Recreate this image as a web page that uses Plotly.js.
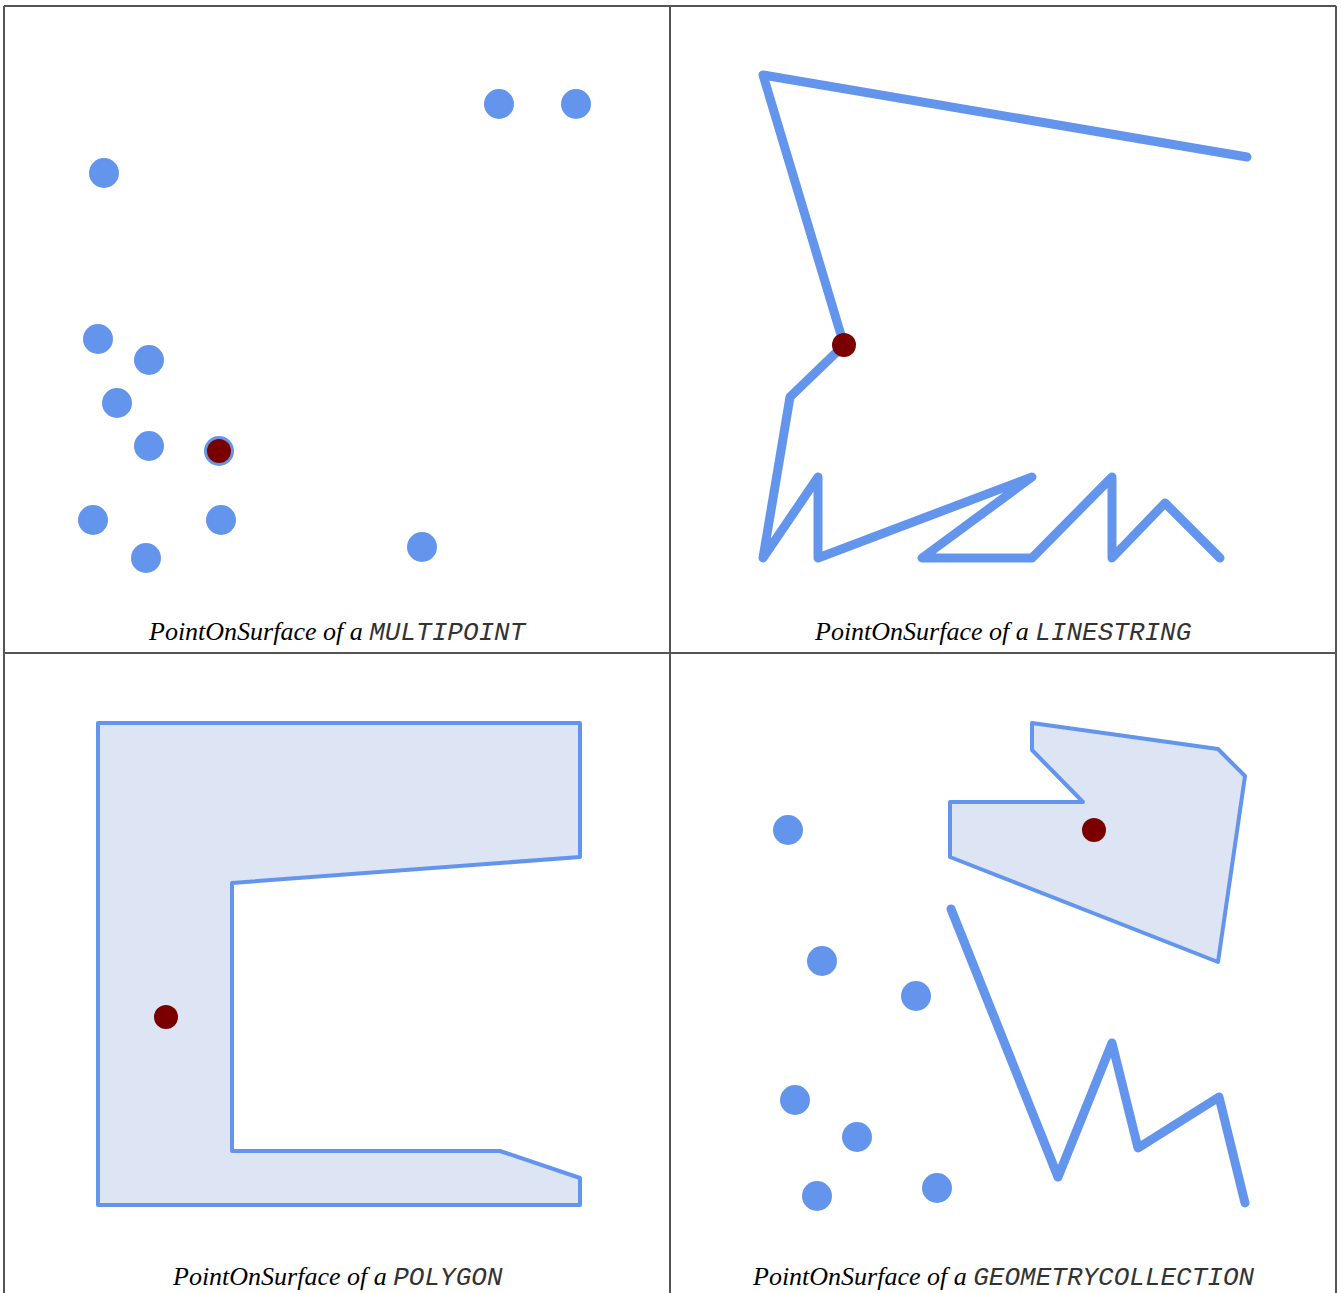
<!DOCTYPE html>
<html>
<head>
<meta charset="utf-8">
<script src="https://cdn.plot.ly/plotly-3.0.1.min.js"></script>
<style>
  html, body { margin: 0; padding: 0; background: #ffffff; }
  #chart { width: 1341px; height: 1293px; }
  .js-line { stroke-linejoin: round; stroke-linecap: round; }
</style>
</head>
<body>
<div id="chart"></div>
<script>
// ---------- DATA (panel-local coordinates, y up) ----------
// Panel 1: MULTIPOINT
const mpX = [100, 495, 572, 94, 145, 113, 145, 215, 89, 217, 142, 418];
const mpY = [437, 506, 506, 271, 250, 207, 164, 159, 90, 90, 52, 63];
const mpPosX = [215];
const mpPosY = [159];

// Panel 2: LINESTRING
const lsX = [577, 93, 174, 120, 93, 148, 148, 362, 252, 362, 442, 442, 495, 550];
const lsY = [453, 535, 265, 213, 52, 133, 52, 133, 52, 52, 133, 52, 107, 52];
const lsPosX = [174];
const lsPosY = [265];

// Panel 3: POLYGON
const pgX = [94, 576, 576, 228, 228, 496, 576, 576, 94, 94];
const pgY = [527, 527, 393, 367, 99, 99, 72, 45, 45, 527];
const pgPosX = [162];
const pgPosY = [233];

// Panel 4: GEOMETRYCOLLECTION
const gcPtX = [118, 152, 246, 125, 187, 147, 267];
const gcPtY = [420, 289, 254, 150, 113, 54, 62];
const gcPolyX = [362, 548, 575, 548, 280, 280, 413, 362, 362];
const gcPolyY = [527, 501, 474, 288, 393, 448, 448, 500, 527];
const gcLineX = [281, 388, 442, 468, 549, 575];
const gcLineY = [341, 73, 207, 102, 153, 47];
const gcPosX = [424];
const gcPosY = [420];

const captions = ["MULTIPOINT", "LINESTRING", "POLYGON", "GEOMETRYCOLLECTION"];
const captionPrefix = "PointOnSurface of a ";

// ---------- STYLE / LAYOUT ----------
const W = 1341, H = 1293;
const BLUE = "#6495ED";
const RED = "#7a0000";
const FILL = "#dde4f3";

// panel pixel boxes: [left, right, top, bottom]
const boxes = [
  [4, 670, 6, 610],
  [670, 1336, 6, 610],
  [4, 670, 653, 1250],
  [670, 1336, 653, 1250]
];

const traces = [];
function ax(i) { return i === 0 ? "" : String(i + 1); }

function pts(x, y, i, color, size) {
  traces.push({type: "scatter", mode: "markers", x: x, y: y,
    xaxis: "x" + ax(i), yaxis: "y" + ax(i),
    marker: {color: color, size: size, line: {width: 0}},
    hoverinfo: "skip", showlegend: false});
}
function line(x, y, i, width, fill) {
  const t = {type: "scatter", mode: "lines", x: x, y: y,
    xaxis: "x" + ax(i), yaxis: "y" + ax(i),
    line: {color: BLUE, width: width},
    hoverinfo: "skip", showlegend: false};
  if (fill) { t.fill = "toself"; t.fillcolor = FILL; }
  traces.push(t);
}

// panel 1
pts(mpX, mpY, 0, BLUE, 30);
pts(mpPosX, mpPosY, 0, RED, 24);
// panel 2
line(lsX, lsY, 1, 9, false);
pts(lsPosX, lsPosY, 1, RED, 24);
// panel 3
line(pgX, pgY, 2, 4, true);
pts(pgPosX, pgPosY, 2, RED, 24);
// panel 4
line(gcPolyX, gcPolyY, 3, 4, true);
line(gcLineX, gcLineY, 3, 9, false);
pts(gcPtX, gcPtY, 3, BLUE, 30);
pts(gcPosX, gcPosY, 3, RED, 24);

const layout = {
  width: W, height: H,
  margin: {l: 0, r: 0, t: 0, b: 0, pad: 0},
  paper_bgcolor: "#ffffff", plot_bgcolor: "rgba(0,0,0,0)",
  showlegend: false, hovermode: false,
  shapes: [], annotations: []
};

boxes.forEach((b, i) => {
  const [l, r, t, bt] = b;
  const axisCommon = {visible: false, showgrid: false, zeroline: false, fixedrange: true};
  layout["xaxis" + ax(i)] = Object.assign({}, axisCommon, {
    domain: [l / W, r / W], range: [0, r - l], anchor: "y" + ax(i)});
  layout["yaxis" + ax(i)] = Object.assign({}, axisCommon, {
    domain: [1 - bt / H, 1 - t / H], range: [0, bt - t], anchor: "x" + ax(i)});
  const cy = i < 2 ? 632 : 1277;
  layout.annotations.push({
    xref: "paper", yref: "paper", x: ((l + r) / 2) / W, y: 1 - cy / H,
    xanchor: "center", yanchor: "middle", showarrow: false,
    text: "<i>" + captionPrefix + "<span style='font-family:Liberation Mono;font-size:26px;color:#333'>" + captions[i] + "</span></i>",
    font: {family: "Liberation Serif", size: 26, color: "#000"}
  });
});

// table borders
const BC = "#555555";
function hline(y, x0, x1) {
  layout.shapes.push({type: "line", xref: "paper", yref: "paper",
    x0: x0 / W, x1: x1 / W, y0: 1 - y / H, y1: 1 - y / H, line: {color: BC, width: 2}});
}
function vline(x, y0, y1) {
  layout.shapes.push({type: "line", xref: "paper", yref: "paper",
    x0: x / W, x1: x / W, y0: 1 - y0 / H, y1: 1 - y1 / H, line: {color: BC, width: 2}});
}
hline(6, 4, 1336);
hline(653, 4, 1336);
vline(4, 6, 1293);
vline(670, 6, 1293);
vline(1336, 6, 1293);

Plotly.newPlot("chart", traces, layout, {staticPlot: true, displayModeBar: false});
</script>
</body>
</html>
